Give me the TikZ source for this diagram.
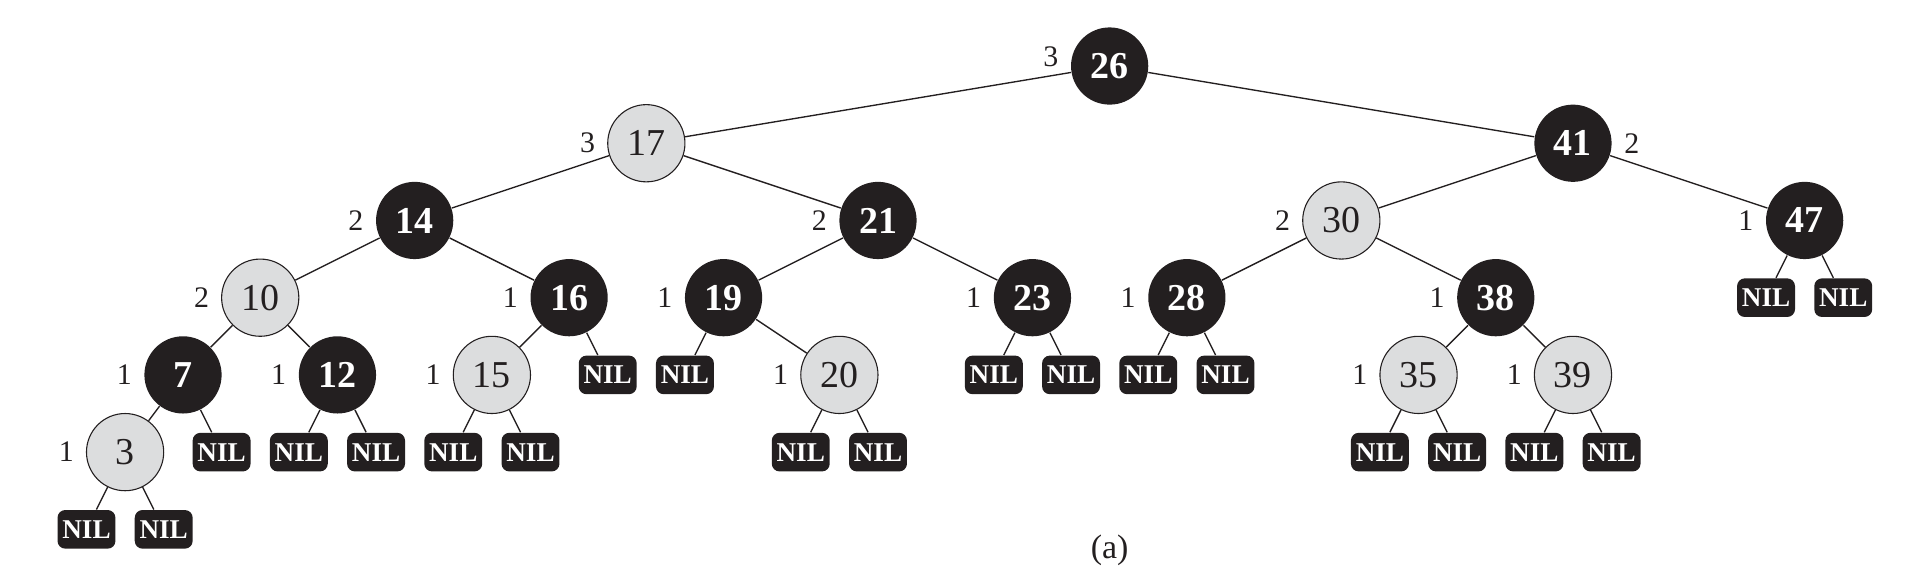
\documentclass[tikz,border=0pt]{standalone}
\usepackage{fontspec}
\setmainfont{Liberation Serif}
\usepackage{tikz}
\usetikzlibrary{shapes.geometric}
\definecolor{rbdark}{HTML}{231F20}
\definecolor{rblight}{HTML}{DCDDDE}
\tikzstyle{blacknode} = [circle,fill=rbdark,text=white,minimum size=1cm,inner sep=0pt,font=\fontsize{14}{15}\selectfont\bfseries]
\tikzstyle{rednode} = [circle,draw=rbdark,line width=0.4pt,fill=rblight,text=rbdark,minimum size=1cm,inner sep=0pt,font=\fontsize{14}{15}\selectfont]
\tikzstyle{nilnode} = [rectangle,rounded corners=0.1cm,fill=rbdark,text=white,minimum width=0.75cm,minimum height=0.5cm,inner sep=0pt,font=\fontsize{10}{11}\selectfont\bfseries]
\tikzstyle{bh} = [inner sep=0pt,label distance=0.15cm,text=rbdark,font=\fontsize{11}{12}\selectfont]
\tikzstyle{edge} = [line width=0.5pt,draw=rbdark]

\begin{document}
\begin{tikzpicture}
\useasboundingbox (-1.12,0.855) rectangle (23.77,-6.74);
% level 0
\node[blacknode,label={[bh,yshift=0.12cm]left:3}] (n26) at (13.25,0) {26};
% level 1
\node[rednode,label={[bh]left:3}] (n17) at (7.25,-1) {17};
\node[blacknode,label={[bh]right:2}] (n41) at (19.25,-1) {41};
% level 2
\node[blacknode,label={[bh]left:2}] (n14) at (4.25,-2) {14};
\node[blacknode,label={[bh]left:2}] (n21) at (10.25,-2) {21};
\node[rednode,label={[bh]left:2}] (n30) at (16.25,-2) {30};
\node[blacknode,label={[bh]left:1}] (n47) at (22.25,-2) {47};
% level 3
\node[rednode,label={[bh]left:2}] (n10) at (2.25,-3) {10};
\node[blacknode,label={[bh]left:1}] (n16) at (6.25,-3) {16};
\node[blacknode,label={[bh]left:1}] (n19) at (8.25,-3) {19};
\node[blacknode,label={[bh]left:1}] (n23) at (12.25,-3) {23};
\node[blacknode,label={[bh]left:1}] (n28) at (14.25,-3) {28};
\node[blacknode,label={[bh]left:1}] (n38) at (18.25,-3) {38};
\node[nilnode] (nil47a) at (21.75,-3) {NIL};
\node[nilnode] (nil47b) at (22.75,-3) {NIL};
% level 4
\node[blacknode,label={[bh]left:1}] (n7) at (1.25,-4) {7};
\node[blacknode,label={[bh]left:1}] (n12) at (3.25,-4) {12};
\node[rednode,label={[bh]left:1}] (n15) at (5.25,-4) {15};
\node[nilnode] (nil16b) at (6.75,-4) {NIL};
\node[nilnode] (nil19a) at (7.75,-4) {NIL};
\node[rednode,label={[bh]left:1}] (n20) at (9.75,-4) {20};
\node[nilnode] (nil23a) at (11.75,-4) {NIL};
\node[nilnode] (nil23b) at (12.75,-4) {NIL};
\node[nilnode] (nil28a) at (13.75,-4) {NIL};
\node[nilnode] (nil28b) at (14.75,-4) {NIL};
\node[rednode,label={[bh]left:1}] (n35) at (17.25,-4) {35};
\node[rednode,label={[bh]left:1}] (n39) at (19.25,-4) {39};
% level 5
\node[rednode,label={[bh]left:1}] (n3) at (0.5,-5) {3};
\node[nilnode] (nil7b) at (1.75,-5) {NIL};
\node[nilnode] (nil12a) at (2.75,-5) {NIL};
\node[nilnode] (nil12b) at (3.75,-5) {NIL};
\node[nilnode] (nil15a) at (4.75,-5) {NIL};
\node[nilnode] (nil15b) at (5.75,-5) {NIL};
\node[nilnode] (nil20a) at (9.25,-5) {NIL};
\node[nilnode] (nil20b) at (10.25,-5) {NIL};
\node[nilnode] (nil35a) at (16.75,-5) {NIL};
\node[nilnode] (nil35b) at (17.75,-5) {NIL};
\node[nilnode] (nil39a) at (18.75,-5) {NIL};
\node[nilnode] (nil39b) at (19.75,-5) {NIL};
% level 6
\node[nilnode] (nil3a) at (0,-6) {NIL};
\node[nilnode] (nil3b) at (1,-6) {NIL};
\node[text=rbdark,font=\fontsize{12.5}{13}\selectfont] (cap) at (13.25,-6.27) {(a)};
% edges
\foreach \p/\c in {n26/n17,n26/n41,n17/n14,n17/n21,n41/n30,n41/n47,
  n14/n10,n14/n16,n21/n19,n21/n23,n30/n28,n30/n38,n47/nil47a,n47/nil47b,
  n10/n7,n10/n12,n16/n15,n16/nil16b,n19/nil19a,n19/n20,n23/nil23a,n23/nil23b,
  n28/nil28a,n28/nil28b,n38/n35,n38/n39,n7/n3,n7/nil7b,n12/nil12a,n12/nil12b,
  n15/nil15a,n15/nil15b,n20/nil20a,n20/nil20b,n35/nil35a,n35/nil35b,
  n39/nil39a,n39/nil39b,n3/nil3a,n3/nil3b}
  \draw[edge] (\p) -- (\c);
\end{tikzpicture}
\end{document}
